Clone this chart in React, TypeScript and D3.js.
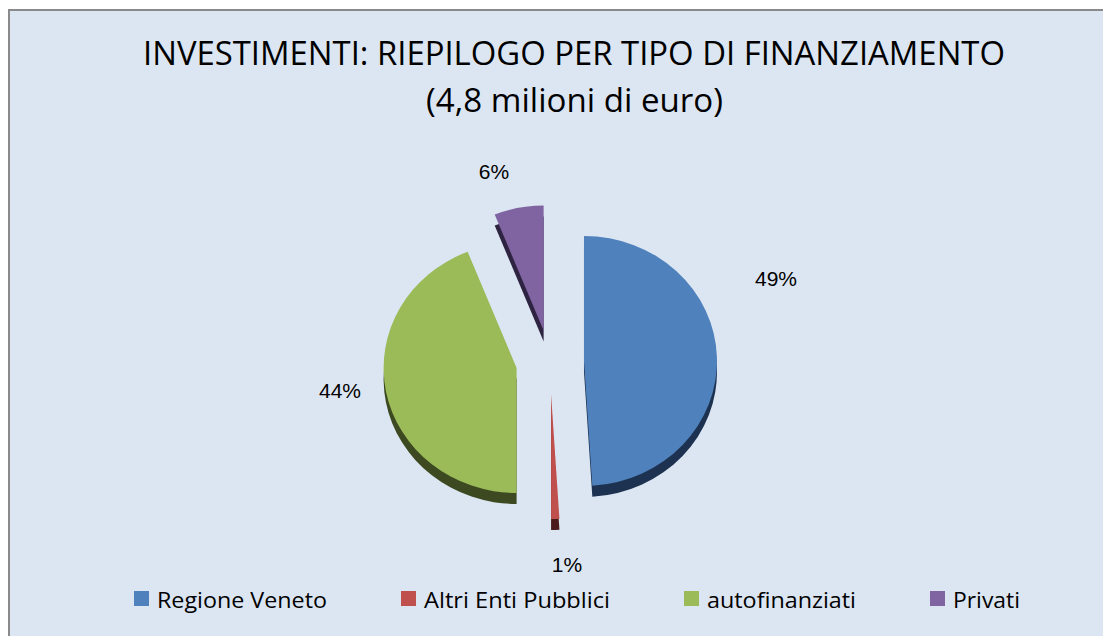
import React from 'react';
import * as d3 from 'd3';

// ---- data ----
const categories: string[] = ['Regione Veneto', 'Altri Enti Pubblici', 'autofinanziati', 'Privati'];
const values: number[] = [49, 1, 44, 6];
const valueLabels: string[] = ['49%', '1%', '44%', '6%'];
const titleLines: string[] = ['INVESTIMENTI: RIEPILOGO PER TIPO DI FINANZIAMENTO', '(4,8 milioni di euro)'];

// ---- styles / layout ----
const colors = ['#4f81bd', '#c0504d', '#9bbb59', '#8064a2'];
const sideColors = ['#1d3250', '#4a1b1a', '#3d4a21', '#2e2442'];
const W = 1103;
const H = 636;
const CX = 550;
const CY = 362;
const RX = 133;
const RY = 125;
const EXPLODE = 34;
const DEPTH = 11;
// label anchor offsets (relative to the pie centre), in data order
const labelOffsets: [number, number][] = [[226, -76], [17, 210], [-210, 36], [-56, -183]];
const legendTextWidths = [170, 186, 149, 67];

export default function App() {
  const K = RY / RX;
  const pie = d3.pie<number>().sort(null).value((d) => d)(values);
  const arc = d3.arc<d3.PieArcDatum<number>>().innerRadius(0).outerRadius(RX);

  const slices = pie.map((p, i) => {
    const mid = (p.startAngle + p.endAngle) / 2;
    const dx = EXPLODE * Math.sin(mid);
    const dy = -EXPLODE * Math.cos(mid) * K;
    return { p, i, x: CX + dx, y: CY + dy, d: arc(p) as string };
  });

  // legend positions
  const legendX: number[] = [];
  let lx = 134;
  legendTextWidths.forEach((w) => {
    legendX.push(lx);
    lx += 23 + w + 74;
  });

  return (
    <svg
      width={W}
      height={H}
      style={{ position: 'fixed', left: 0, top: 0, background: '#ffffff' }}
    >
      <rect x={9} y={10} width={W + 20} height={H + 20} fill="#dce6f2" stroke="#8a8a8a" strokeWidth={2} />

      {/* title */}
      <text
        x={574}
        y={65}
        textAnchor="middle"
        fontFamily="'Open Sans', sans-serif"
        fontSize={32}
        textLength={862}
        lengthAdjust="spacingAndGlyphs"
        fill="#000"
      >
        {titleLines[0]}
      </text>
      <text
        x={574.5}
        y={112}
        textAnchor="middle"
        fontFamily="'Open Sans', sans-serif"
        fontSize={32}
        textLength={297}
        lengthAdjust="spacingAndGlyphs"
        fill="#000"
      >
        {titleLines[1]}
      </text>

      {/* pie sides (depth) */}
      {slices.map((s) => (
        <path
          key={'side' + s.i}
          d={s.d}
          transform={`translate(${s.x},${s.y + DEPTH}) scale(1,${K})`}
          fill={sideColors[s.i]}
        />
      ))}
      {/* pie tops */}
      {slices.map((s) => (
        <path
          key={'top' + s.i}
          d={s.d}
          transform={`translate(${s.x},${s.y}) scale(1,${K})`}
          fill={colors[s.i]}
        />
      ))}

      {/* data labels */}
      {valueLabels.map((l, i) => (
        <text
          key={'lab' + i}
          x={CX + labelOffsets[i][0]}
          y={CY + labelOffsets[i][1]}
          textAnchor="middle"
          fontFamily="'Liberation Sans', Arial, sans-serif"
          fontSize={21}
          fill="#000"
        >
          {l}
        </text>
      ))}

      {/* legend */}
      {categories.map((c, i) => (
        <g key={'leg' + i}>
          <rect x={legendX[i]} y={591} width={15} height={15} fill={colors[i]} />
          <text
            x={legendX[i] + 23}
            y={608}
            fontFamily="'Open Sans', sans-serif"
            fontSize={21}
            textLength={legendTextWidths[i]}
            lengthAdjust="spacingAndGlyphs"
            fill="#000"
          >
            {c}
          </text>
        </g>
      ))}
    </svg>
  );
}
